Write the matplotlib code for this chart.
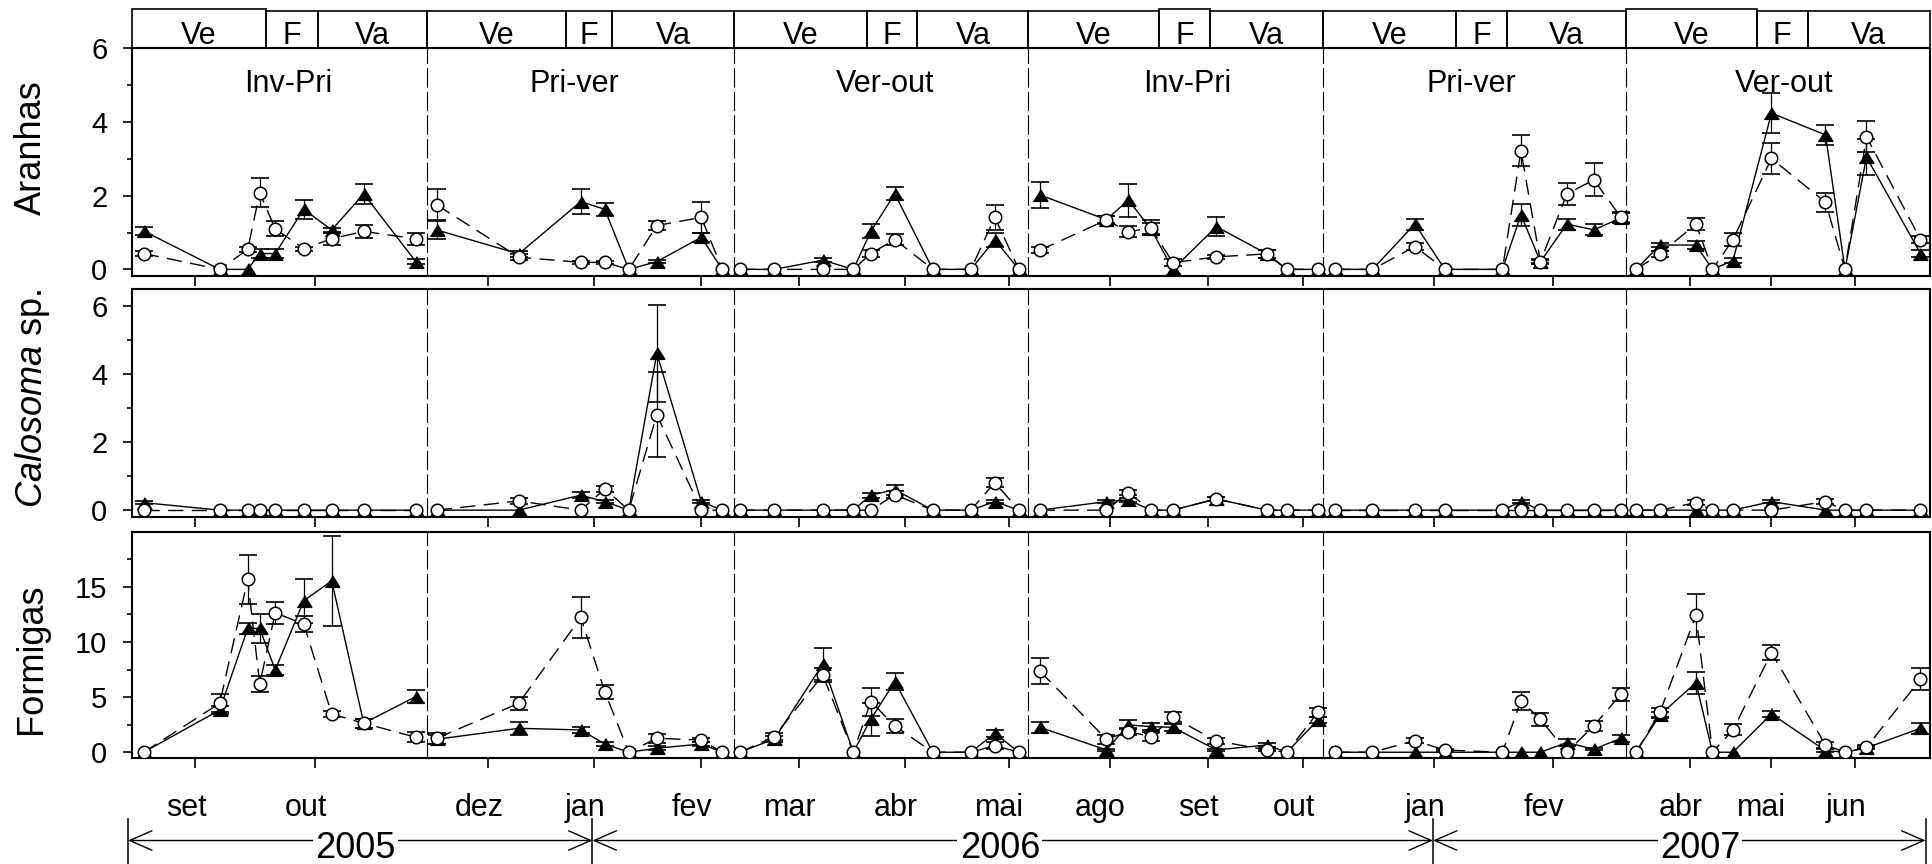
import numpy as np
import matplotlib
matplotlib.use("Agg")
import matplotlib.pyplot as plt
import matplotlib.transforms as mtransforms
from matplotlib.patches import Rectangle, FancyArrowPatch
from matplotlib.lines import Line2D
from matplotlib.ticker import FixedLocator

plt.rcParams["font.family"] = ["Liberation Sans", "DejaVu Sans"]
plt.rcParams["mathtext.fontset"] = "custom"
plt.rcParams["mathtext.it"] = "Liberation Sans:italic"
plt.rcParams["mathtext.rm"] = "Liberation Sans"
plt.rcParams["lines.scale_dashes"] = False

# ---------------------------------------------------------------- data
# position of each sampling date along the survey axis, six season blocks
sample_pos = [12, 88, 116, 128, 143.5, 172, 200, 232, 284,
              305, 387, 449, 473, 497, 525, 569.5, 590.5,
              608, 642.5, 691, 721.5, 739, 763, 801, 839, 863, 887,
              908, 974.5, 996.5, 1019, 1041, 1084.5, 1135, 1155, 1186,
              1203, 1240.5, 1283, 1313, 1370.5, 1389, 1408.5, 1435, 1462, 1489,
              1504, 1528, 1564, 1580.5, 1601, 1639.5, 1693.5, 1713, 1734.5, 1788.5]
block_sizes = [9, 8, 10, 9, 10, 10]
block_edges = [0, 295.6, 602.1, 896.6, 1191.0, 1494.5, 1797.6]
block_names = ["Inv-Pri", "Pri-ver", "Ver-out", "Inv-Pri", "Pri-ver", "Ver-out"]
block_name_pos = [156.3, 442.5, 753, 1055, 1339, 1651.7]

# phenological phases inside each block: Ve | F | Va
phase_names = ["Ve", "F", "Va"]
phase_edges = [[0, 134.4, 185.8, 295.6],
               [295.6, 434.5, 480.4, 602.1],
               [602.1, 735.3, 785.6, 896.6],
               [896.6, 1027.6, 1077.9, 1191.0],
               [1191.0, 1324.0, 1374.8, 1494.5],
               [1494.5, 1624.7, 1675.9, 1797.6]]

month_pos = [63.7, 183.7, 356.2, 462.7, 569.6, 667.2, 773.4, 877, 977.7,
             1075.7, 1171.1, 1301.8, 1420.7, 1558.2, 1638.8, 1723.5]
month_labels = ["set", "out", "dez", "jan", "fev", "mar", "abr", "mai", "ago",
                "set", "out", "jan", "fev", "abr", "mai", "jun"]
year_labels = ["2005", "2006", "2007"]
year_edges = [-3.7, 460.7, 1301.0, 1793.6]
year_label_pos = [224, 868, 1568]

# Aranhas
aranhas_tri = [1.04, 0, 0, 0.43, 0.43, 1.63, 1.07, 2.05, 0.21,
               1.07, 0.42, 1.84, 1.63, 0, 0.21, 0.87, 0,
               0, 0, 0.25, 0, 1.03, 2.05, 0, 0, 0.8, 0,
               2.02, 1.35, 1.88, 1.1, 0, 1.16, 0.42, 0, 0,
               0, 0, 1.23, 0, 0, 1.48, 0.21, 1.23, 1.07, 1.4,
               0, 0.66, 0.66, 0, 0.24, 4.24, 3.65, 0, 3.05, 0.43]
aranhas_tri_se = [0.1, 0, 0, 0.12, 0.12, 0.25, 0.06, 0.28, 0.06,
                  0.25, 0.08, 0.35, 0.17, 0, 0.05, 0.12, 0,
                  0, 0, 0.05, 0, 0.19, 0.18, 0, 0, 0.2, 0,
                  0.35, 0.1, 0.45, 0.15, 0, 0.25, 0.1, 0, 0,
                  0, 0, 0.15, 0, 0, 0.3, 0.05, 0.15, 0.15, 0.12,
                  0, 0.05, 0.1, 0, 0.07, 0.55, 0.28, 0, 0.5, 0.1]
aranhas_circ = [0.43, 0, 0.54, 2.08, 1.1, 0.56, 0.83, 1.03, 0.83,
                1.75, 0.33, 0.19, 0.19, 0, 1.19, 1.41, 0,
                0, 0, 0, 0, 0.43, 0.81, 0, 0, 1.41, 0,
                0.52, 1.34, 1.02, 1.13, 0.18, 0.34, 0.42, 0, 0,
                0, 0, 0.62, 0, 0, 3.22, 0.21, 2.05, 2.43, 1.41,
                0, 0.42, 1.23, 0, 0.81, 3.01, 1.82, 0, 3.6, 0.81]
aranhas_circ_se = [0.08, 0, 0.08, 0.4, 0.2, 0.05, 0.16, 0.18, 0.16,
                   0.42, 0.08, 0.05, 0.05, 0, 0.12, 0.43, 0,
                   0, 0, 0, 0, 0.1, 0.15, 0, 0, 0.33, 0,
                   0.08, 0.1, 0.15, 0.2, 0.1, 0.05, 0.1, 0, 0,
                   0, 0, 0.1, 0, 0, 0.42, 0.06, 0.3, 0.45, 0.15,
                   0, 0.08, 0.17, 0, 0.17, 0.43, 0.25, 0, 0.42, 0.1]

# Calosoma sp.
calosoma_tri = [0.22, 0, 0, 0, 0, 0, 0, 0, 0,
                0, 0, 0.44, 0.25, 0, 4.6, 0.25, 0,
                0, 0, 0, 0, 0.44, 0.6, 0, 0, 0.25, 0,
                0, 0.25, 0.3, 0, 0, 0.33, 0, 0, 0,
                0, 0, 0, 0, 0, 0.25, 0, 0, 0, 0,
                0, 0, 0, 0, 0, 0.25, 0, 0, 0, 0]
calosoma_tri_se = [0.05, 0, 0, 0, 0, 0, 0, 0, 0,
                   0, 0, 0.08, 0.05, 0, 1.43, 0.05, 0,
                   0, 0, 0, 0, 0.07, 0.15, 0, 0, 0.05, 0,
                   0, 0.05, 0.05, 0, 0, 0.07, 0, 0, 0,
                   0, 0, 0, 0, 0, 0.05, 0, 0, 0, 0,
                   0, 0, 0, 0, 0, 0.05, 0, 0, 0, 0]
calosoma_circ = [0, 0, 0, 0, 0, 0, 0, 0, 0,
                 0, 0.27, 0, 0.62, 0, 2.8, 0, 0,
                 0, 0, 0, 0, 0, 0.45, 0, 0, 0.81, 0,
                 0, 0, 0.51, 0, 0, 0.33, 0, 0, 0,
                 0, 0, 0, 0, 0, 0, 0, 0, 0, 0,
                 0, 0, 0.22, 0, 0, 0, 0.25, 0, 0, 0]
calosoma_circ_se = [0, 0, 0, 0, 0, 0, 0, 0, 0,
                    0, 0.1, 0, 0.1, 0, 1.25, 0, 0,
                    0, 0, 0, 0, 0, 0.1, 0, 0, 0.12, 0,
                    0, 0, 0.08, 0, 0, 0.07, 0, 0, 0,
                    0, 0, 0, 0, 0, 0, 0, 0, 0, 0,
                    0, 0, 0.07, 0, 0, 0, 0.08, 0, 0, 0]

# Formigas
formigas_tri = [0, 3.83, 11.23, 11.23, 7.46, 13.73, 15.55, 2.63, 5.04,
                1.18, 2.17, 2.02, 0.75, 0, 0.36, 0.75, 0,
                0, 1.2, 8.0, 0, 3.0, 6.4, 0, 0, 1.72, 0,
                2.26, 0.21, 2.48, 2.32, 2.26, 0.21, 0.66, 0, 2.93,
                0, 0, 0, 0, 0, 0, 0, 0.88, 0.27, 1.27,
                0, 3.38, 6.31, 0, 0, 3.47, 0.15, 0, 0.4, 2.17]
formigas_tri_se = [0, 0.35, 0.5, 1.3, 0.45, 2.0, 4.1, 0.4, 0.6,
                   0.4, 0.6, 0.25, 0.2, 0, 0.2, 0.15, 0,
                   0, 0.3, 1.45, 0, 1.5, 0.8, 0, 0, 0.3, 0,
                   0.5, 0.1, 0.4, 0.3, 0.3, 0.1, 0.2, 0, 0.3,
                   0, 0, 0, 0, 0, 0, 0, 0.3, 0.1, 0.3,
                   0, 0.3, 1.0, 0, 0, 0.3, 0.1, 0, 0.1, 0.5]
formigas_circ = [0, 4.44, 15.67, 6.19, 12.65, 11.62, 3.47, 2.63, 1.36,
                 1.27, 4.44, 12.22, 5.49, 0, 1.27, 1.1, 0,
                 0, 1.42, 7.0, 0, 4.6, 2.38, 0, 0, 0.6, 0,
                 7.36, 1.18, 1.87, 1.42, 3.17, 1.03, 0.21, 0, 3.62,
                 0, 0, 1.06, 0.2, 0, 4.65, 2.99, 0, 2.42, 5.25,
                 0, 3.62, 12.44, 0, 2.02, 9.03, 0.66, 0, 0.45, 6.61]
formigas_circ_se = [0, 0.8, 2.25, 0.75, 1.0, 0.7, 0.3, 0.4, 0.45,
                    0.5, 0.6, 1.9, 0.65, 0, 0.4, 0.2, 0,
                    0, 0.3, 0.6, 0, 1.27, 0.6, 0, 0, 0.3, 0,
                    1.2, 0.4, 0.3, 0.4, 0.5, 0.3, 0.1, 0, 0.4,
                    0, 0, 0.2, 0.1, 0, 0.8, 0.6, 0, 0.45, 0.6,
                    0, 0.4, 1.95, 0, 0.5, 0.7, 0.3, 0, 0.2, 1.0]

# ---------------------------------------------------------------- figure
W, H = 1932, 864
fig = plt.figure(figsize=(W / 100, H / 100), dpi=100)


def px_rect(left, top, right, bottom):
    return [left / W, 1 - bottom / H, (right - left) / W, (bottom - top) / H]


AX_L, AX_R = 131.7, 1929.6
ax_strip = fig.add_axes(px_rect(AX_L, 11, AX_R, 48.3))
ax1 = fig.add_axes(px_rect(AX_L, 48.3, AX_R, 276.0))
ax2 = fig.add_axes(px_rect(AX_L, 289.3, AX_R, 517.3))
ax3 = fig.add_axes(px_rect(AX_L, 531.7, AX_R, 758.3))

XLIM = (0, 1797.6)
pos = np.asarray(sample_pos, dtype=float)
splits = np.cumsum(block_sizes)[:-1]
blocks = np.split(np.arange(len(pos)), splits)

TRI = [(-1, -0.8), (1, -0.8), (0, 0.8)]


def draw_series(ax, y, se, marker, ms, face, dashes, z):
    y = np.asarray(y, float)
    se = np.asarray(se, float)
    for idx in blocks:
        xs, ys, es = pos[idx], y[idx], se[idx]
        m = es > 0
        if m.any():
            ax.errorbar(xs[m], ys[m], yerr=es[m], fmt="none", ecolor="black",
                        elinewidth=0.9, capsize=6.2, capthick=1.2, zorder=z - 0.5)
        ln, = ax.plot(xs, ys, color="black", lw=1.0, marker=marker, ms=ms,
                      mfc=face, mec="black", mew=1.1, zorder=z)
        if dashes is not None:
            ln.set_dashes(dashes)


panels = [
    (ax1, aranhas_tri, aranhas_tri_se, aranhas_circ, aranhas_circ_se,
     (-0.18, 6.0), [0, 2, 4, 6], [1, 3, 5]),
    (ax2, calosoma_tri, calosoma_tri_se, calosoma_circ, calosoma_circ_se,
     (-0.21, 6.48), [0, 2, 4, 6], [1, 3, 5]),
    (ax3, formigas_tri, formigas_tri_se, formigas_circ, formigas_circ_se,
     (-0.55, 20.0), [0, 5, 10, 15], [2.5, 7.5, 12.5, 17.5]),
]

for ax, tri, tri_se, circ, circ_se, ylim, major, minor in panels:
    draw_series(ax, tri, tri_se, TRI, 10.5, "black", None, 3)
    draw_series(ax, circ, circ_se, "o", 9.0, "white", (11, 6), 5)
    for xb in block_edges[1:-1]:
        ax.axvline(xb, color="black", lw=0.8, dashes=(14, 3), zorder=1)
    ax.set_xlim(*XLIM)
    ax.set_ylim(*ylim)
    ax.yaxis.set_major_locator(FixedLocator(major))
    ax.yaxis.set_minor_locator(FixedLocator(minor))
    ax.xaxis.set_major_locator(FixedLocator(month_pos))
    ax.tick_params(axis="y", which="major", direction="out", length=6.5,
                   width=1.2, labelsize=21, pad=11)
    ax.tick_params(axis="y", which="minor", direction="out", length=3.3, width=1.2)
    ax.tick_params(axis="x", which="major", direction="out", length=7,
                   width=1.2, labelsize=22, pad=18)
    for sp in ax.spines.values():
        sp.set_linewidth(1.5)

ax1.set_xticklabels([])
ax2.set_xticklabels([])
ax3.set_xticklabels(month_labels)
shift = mtransforms.ScaledTranslation(-9 / 100, 0, fig.dpi_scale_trans)
for lbl in ax3.get_xticklabels():
    lbl.set_transform(lbl.get_transform() + shift)

# season block names inside the upper panel
for name, xc in zip(block_names, block_name_pos):
    ax1.text(xc, 4.82, name, ha="center", va="baseline", fontsize=22)

# phase strip above the upper panel
ax_strip.set_xlim(*XLIM)
ax_strip.set_ylim(0, 1)
ax_strip.axis("off")
strip_tr = ax_strip.get_xaxis_transform()
raised = {(0, 0), (5, 0), (3, 1)}
for b, edges in enumerate(phase_edges):
    for k, name in enumerate(phase_names):
        x0, x1 = edges[k], edges[k + 1]
        top = 1.05 if (b, k) in raised else 1.0
        ax_strip.add_patch(Rectangle((x0, 0), x1 - x0, top, fill=False,
                                     ec="black", lw=1.2, transform=strip_tr,
                                     clip_on=False))
        ax_strip.text((x0 + x1) / 2, 0.107, name, ha="center", va="baseline",
                      fontsize=22, transform=strip_tr)

# y-axis titles
fig.text(31 / W, 1 - 147.5 / H, "Aranhas", rotation=90, ha="center",
         va="center", fontsize=26)
fig.text(33 / W, 1 - 398 / H, r"$\mathit{Calosoma}$ sp.", rotation=90,
         ha="center", va="center", fontsize=26)
fig.text(32 / W, 1 - 659 / H, "Formigas", rotation=90, ha="center",
         va="center", fontsize=26)

# year brackets under the month labels
ytr = mtransforms.blended_transform_factory(ax3.transData, fig.transFigure)
arrow_y = 1 - 840.5 / H
for xe in year_edges:
    fig.add_artist(Line2D([xe, xe], [1 - 819 / H, 0], color="black",
                          lw=1.1, transform=ytr))
for k in range(3):
    fig.add_artist(FancyArrowPatch(
        (year_edges[k], arrow_y), (year_edges[k + 1], arrow_y),
        transform=ytr, arrowstyle="<->,head_length=16,head_width=7",
        mutation_scale=1, lw=1.0, color="black", shrinkA=0, shrinkB=0,
        zorder=2))
    fig.text(year_label_pos[k], 1 - 858.3 / H, year_labels[k], transform=ytr,
             ha="center", va="baseline", fontsize=26, zorder=5,
             bbox=dict(fc="white", ec="none", pad=1.5))

fig.savefig("out.png", dpi=100)
